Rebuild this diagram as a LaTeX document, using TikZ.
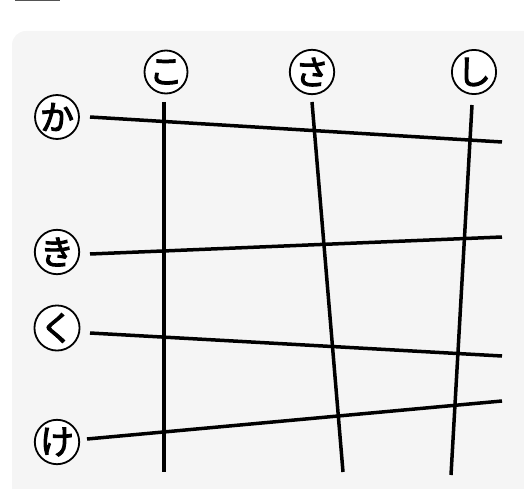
\documentclass[tikz,border=0pt]{standalone}
\usepackage{fontspec}
\newfontfamily\jpfont[FakeBold=3]{Noto Sans CJK JP}
\usetikzlibrary{positioning}

\begin{document}
\begin{tikzpicture}[
  x=1pt, y=-1pt,
  lbl/.style={draw, circle, fill=white, line width=1.8pt, minimum size=43pt,
    inner sep=0pt, font=\jpfont\fontsize{34}{34}\selectfont},
  road/.style={line width=3.5pt},
]
\useasboundingbox (0,0) rectangle (524,489);

% ── background panel ────────────────────────────────────────────────────────
\begin{scope}
  \clip (0,0) rectangle (524,489);
  \fill[black!67] (15,-2) rectangle (60,1.5);
  \fill[black!4, rounded corners=14pt] (12,31) rectangle (560,520);
\end{scope}

% ── column labels ───────────────────────────────────────────────────────────
\node[lbl] (ko)  at (166,72) {こ};
\node[lbl] (sa)  at (312,72) {さ};
\node[lbl] (shi) at (474,72) {し};

% ── row labels ──────────────────────────────────────────────────────────────
\node[lbl] (ka) at (57,117) {か};
\node[lbl] (ki) at (57,252) {き};
\node[lbl] (ku) at (57,328) {く};
\node[lbl] (ke) at (57,442) {け};

% ── free line ends ──────────────────────────────────────────────────────────
\coordinate (ko-a)  at (164,102);  \coordinate (ko-b)  at (164,472);
\coordinate (sa-a)  at (312,102);  \coordinate (sa-b)  at (343,472);
\coordinate (shi-a) at (472,105);  \coordinate (shi-b) at (451,475);
\coordinate (ka-a)  at (90,117);   \coordinate (ka-b)  at (502,142);
\coordinate (ki-a)  at (90,254);   \coordinate (ki-b)  at (502,237);
\coordinate (ku-a)  at (90,333);   \coordinate (ku-b)  at (502,356);
\coordinate (ke-a)  at (87,439);   \coordinate (ke-b)  at (502,401);

% ── lines ───────────────────────────────────────────────────────────────────
\draw[road] (ko-a)  -- (ko-b);
\draw[road] (sa-a)  -- (sa-b);
\draw[road] (shi-a) -- (shi-b);
\draw[road] (ka-a)  -- (ka-b);
\draw[road] (ki-a)  -- (ki-b);
\draw[road] (ku-a)  -- (ku-b);
\draw[road] (ke-a)  -- (ke-b);
\end{tikzpicture}
\end{document}
